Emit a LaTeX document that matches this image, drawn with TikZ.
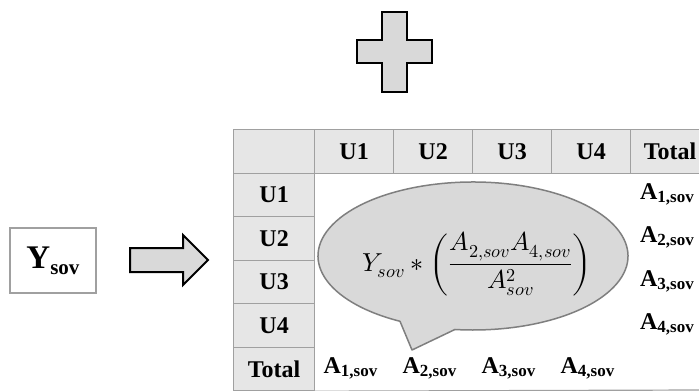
\documentclass[tikz,border=0pt]{standalone}
\usepackage{fontspec}
\usepackage{unicode-math}
\setmainfont{Liberation Serif}
\setmathfont{Latin Modern Math}
\usetikzlibrary{calc}
\definecolor{cellgray}{HTML}{E6E6E6}
\definecolor{gridgray}{HTML}{A0A0A0}
\definecolor{bubblefill}{HTML}{D9D9D9}
\definecolor{bubbleline}{HTML}{7F7F7F}
\definecolor{shapefill}{HTML}{D9D9D9}
% bold A with a bold subscript, as in the table entries
\newcommand\Asov[1]{{\fontsize{24}{27}\selectfont\bfseries A}{\fontsize{17}{19}\selectfont\bfseries\raisebox{-3pt}{#1,sov}}}
\begin{document}
\begin{tikzpicture}[x=1pt,y=-1pt,
  headcell/.style={draw=gridgray, line width=1.2pt, fill=cellgray, inner sep=0pt,
    minimum width=79pt, minimum height=43.5pt, anchor=north west,
    font=\fontsize{24}{27}\selectfont\bfseries},
  rowcell/.style={headcell, minimum width=81pt},
  entry/.style={inner sep=0pt},
  blockshape/.style={draw=black, line width=2pt, fill=shapefill, line join=miter},
  bubble/.style={draw=bubbleline, line width=1.5pt, fill=bubblefill, line join=round}]
\useasboundingbox (0,0) rectangle (699,391);
\clip (0,0) rectangle (699,391);

% plus sign
\draw[blockshape] (382,12) -- (407,12) -- (407,40) -- (432,40) -- (432,63) -- (407,63)
  -- (407,92) -- (382,92) -- (382,63) -- (357,63) -- (357,40) -- (382,40) -- cycle;

% input box
\node[draw=gridgray, line width=2pt, minimum width=86pt, minimum height=65pt, inner sep=0pt]
  (ysov) at (53,260.5)
  {{\fontsize{33}{36}\selectfont\bfseries Y}{\fontsize{21}{24}\selectfont\bfseries\raisebox{-6pt}{sov}}};

% block arrow
\draw[blockshape] (130,248) -- (183,248) -- (183,235) -- (208,260) -- (183,285)
  -- (183,272) -- (130,272) -- cycle;

% table: header row
\node[rowcell] (corner) at (233,129) {};
\node[headcell] (hU1) at (314,129) {U1};
\node[headcell] (hU2) at (393,129) {U2};
\node[headcell] (hU3) at (472,129) {U3};
\node[headcell] (hU4) at (551,129) {U4};
\node[headcell] (hTot) at (630,129) {Total};
% table: header column
\node[rowcell] (rU1) at (233,172.5) {U1};
\node[rowcell] (rU2) at (233,216) {U2};
\node[rowcell] (rU3) at (233,259.5) {U3};
\node[rowcell] (rU4) at (233,303) {U4};
\node[rowcell] (rTot) at (233,346.5) {Total};
% bottom border of the body
\draw[gridgray, line width=1.2pt] (rTot.south east) -- (699,390);

% row totals
\node[entry] (t1) at (667,194.25) {\Asov{1}};
\node[entry] (t2) at (667,237.75) {\Asov{2}};
\node[entry] (t3) at (667,281.25) {\Asov{3}};
\node[entry] (t4) at (667,324.75) {\Asov{4}};
% column totals
\node[entry] (c1) at (350.5,368.25) {\Asov{1}};
\node[entry] (c2) at (429.5,368.25) {\Asov{2}};
\node[entry] (c3) at (508.5,368.25) {\Asov{3}};
\node[entry] (c4) at (587.5,368.25) {\Asov{4}};

% callout with the cell formula
\coordinate (bc) at (473,256);
\coordinate (tip) at (412,350);
\draw[bubble] ($(bc)+(118.1:155 and 74)$)
  arc[start angle=118.1, end angle=456.7, x radius=155, y radius=74]
  -- (tip) -- cycle;
\node[entry] (formula) at (477,264)
  {\fontsize{26}{30}\selectfont$Y_{sov} * \left(\dfrac{A_{2,sov}A_{4,sov}}{A_{sov}^{2}}\right)$};
\end{tikzpicture}
\end{document}
